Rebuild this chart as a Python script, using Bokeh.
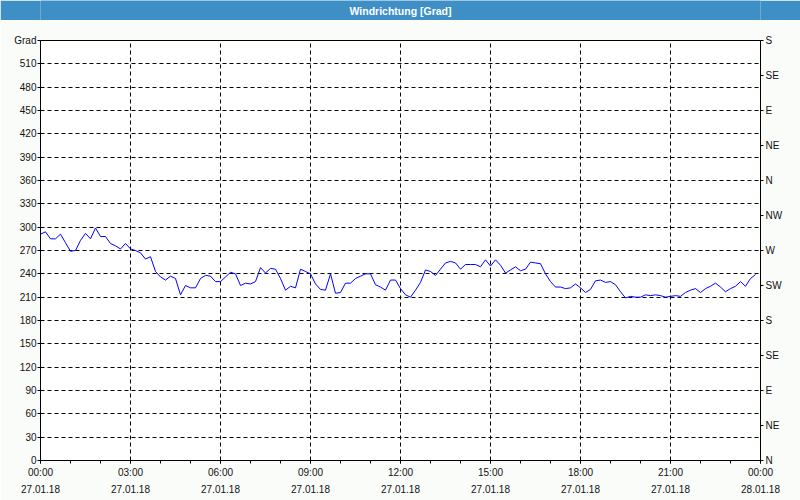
from bokeh.plotting import figure
from bokeh.layouts import column
from bokeh.models import (FixedTicker, LinearAxis, Label, Range1d)
from bokeh.embed import file_html
from bokeh.resources import INLINE

# ---- data -----------------------------------------------------------------
title_text = "Windrichtung [Grad]"
y_unit = "Grad"

# wind direction in degrees, one reading every 10 minutes from 27.01.18 00:00
direction = [
    291, 294, 285, 285, 291, 280, 269, 270, 283, 292, 285, 299,
    288, 288, 279, 276, 272, 279, 272, 270, 267, 259, 262, 243,
    236, 232, 237, 234, 213, 225, 222, 222, 234, 238, 237, 230,
    230, 236, 242, 240, 225, 228, 227, 230, 248, 241, 247, 246,
    234, 219, 224, 222, 246, 243, 240, 227, 220, 219, 240, 215,
    216, 228, 228, 234, 237, 240, 240, 226, 223, 219, 232, 232,
    221, 213, 210, 219, 229, 245, 243, 238, 246, 254, 256, 254,
    246, 252, 252, 252, 249, 258, 250, 258, 251, 241, 245, 249,
    244, 246, 255, 254, 253, 240, 230, 223, 223, 221, 222, 227,
    222, 216, 220, 231, 232, 229, 230, 226, 217, 209, 211, 210,
    210, 213, 212, 213, 212, 210, 211, 212, 211, 216, 219, 221,
    216, 221, 224, 228, 223, 217, 221, 224, 230, 224, 234, 239,
]
hours = [i / 6 for i in range(len(direction))]

time_ticks = [0, 3, 6, 9, 12, 15, 18, 21, 24]
time_labels = ["00:00\n27.01.18", "03:00\n27.01.18", "06:00\n27.01.18",
               "09:00\n27.01.18", "12:00\n27.01.18", "15:00\n27.01.18",
               "18:00\n27.01.18", "21:00\n27.01.18", "00:00\n28.01.18"]
deg_ticks = list(range(0, 541, 30))
compass_ticks = list(range(0, 541, 45))
compass_labels = ["N", "NE", "E", "SE", "S", "SW", "W", "NW",
                  "N", "NE", "E", "SE", "S"]

# ---- style ------------------------------------------------------------------
BLUE_BAR = "#3d8fc6"
PAGE_BG = "#fafcfa"
FONT = "Liberation Sans"
FS = "10px"

# ---- title bar --------------------------------------------------------------
top = figure(width=800, height=20, x_range=(0, 1), y_range=(0, 1),
             output_backend="svg", toolbar_location=None,
             x_axis_location=None, y_axis_location=None, min_border=0)
top.background_fill_color = BLUE_BAR
top.border_fill_color = BLUE_BAR
top.outline_line_color = None
top.grid.visible = False
top.add_layout(Label(x=360, y=10, x_units="screen", y_units="screen",
                     text=title_text, text_align="center",
                     text_baseline="middle", text_color="white",
                     text_font=FONT, text_font_style="bold",
                     text_font_size="10.5px"))

# ---- main chart -------------------------------------------------------------
p = figure(width=800, height=480, x_range=Range1d(0, 24),
           y_range=Range1d(0, 540), output_backend="svg",
           toolbar_location=None, min_border_left=40, min_border_right=40,
           min_border_top=20, min_border_bottom=40)
p.background_fill_color = "white"
p.border_fill_color = PAGE_BG
p.outline_line_color = "black"
p.outline_line_width = 1

p.line(hours, direction, line_color="#0000ff", line_width=1)

# bottom axis
xa = p.xaxis[0]
xa.ticker = FixedTicker(ticks=time_ticks, minor_ticks=list(range(0, 25)))
xa.major_label_overrides = {t: l for t, l in zip(time_ticks, time_labels)}
# left axis
ya = p.yaxis[0]
ya.ticker = FixedTicker(ticks=deg_ticks)
ya.major_label_overrides = {540: y_unit}
# right axis
ra = LinearAxis(ticker=FixedTicker(ticks=compass_ticks),
                major_label_overrides={t: l for t, l in zip(compass_ticks, compass_labels)})
p.add_layout(ra, "right")

for ax in (xa, ya, ra):
    ax.axis_line_color = "black"
    ax.major_tick_line_color = "black"
    ax.minor_tick_line_color = "black"
    ax.major_tick_in = 0
    ax.major_tick_out = 3
    ax.minor_tick_in = 0
    ax.minor_tick_out = 3
    ax.major_label_text_font = FONT
    ax.major_label_text_font_size = FS
    ax.major_label_text_color = "#111111"
xa.major_label_standoff = 3
xa.major_label_text_line_height = 1.6
ya.major_label_standoff = 1
ra.major_label_standoff = 2

p.xgrid.ticker = FixedTicker(ticks=time_ticks[1:-1])
p.ygrid.ticker = FixedTicker(ticks=deg_ticks[1:-1])
for g in (p.xgrid[0], p.ygrid[0]):
    g.grid_line_color = "black"
    g.grid_line_dash = "4 3"
    g.grid_line_width = 1

layout = column(top, p, spacing=0)
open("out.html", "w").write(file_html(layout, INLINE))
